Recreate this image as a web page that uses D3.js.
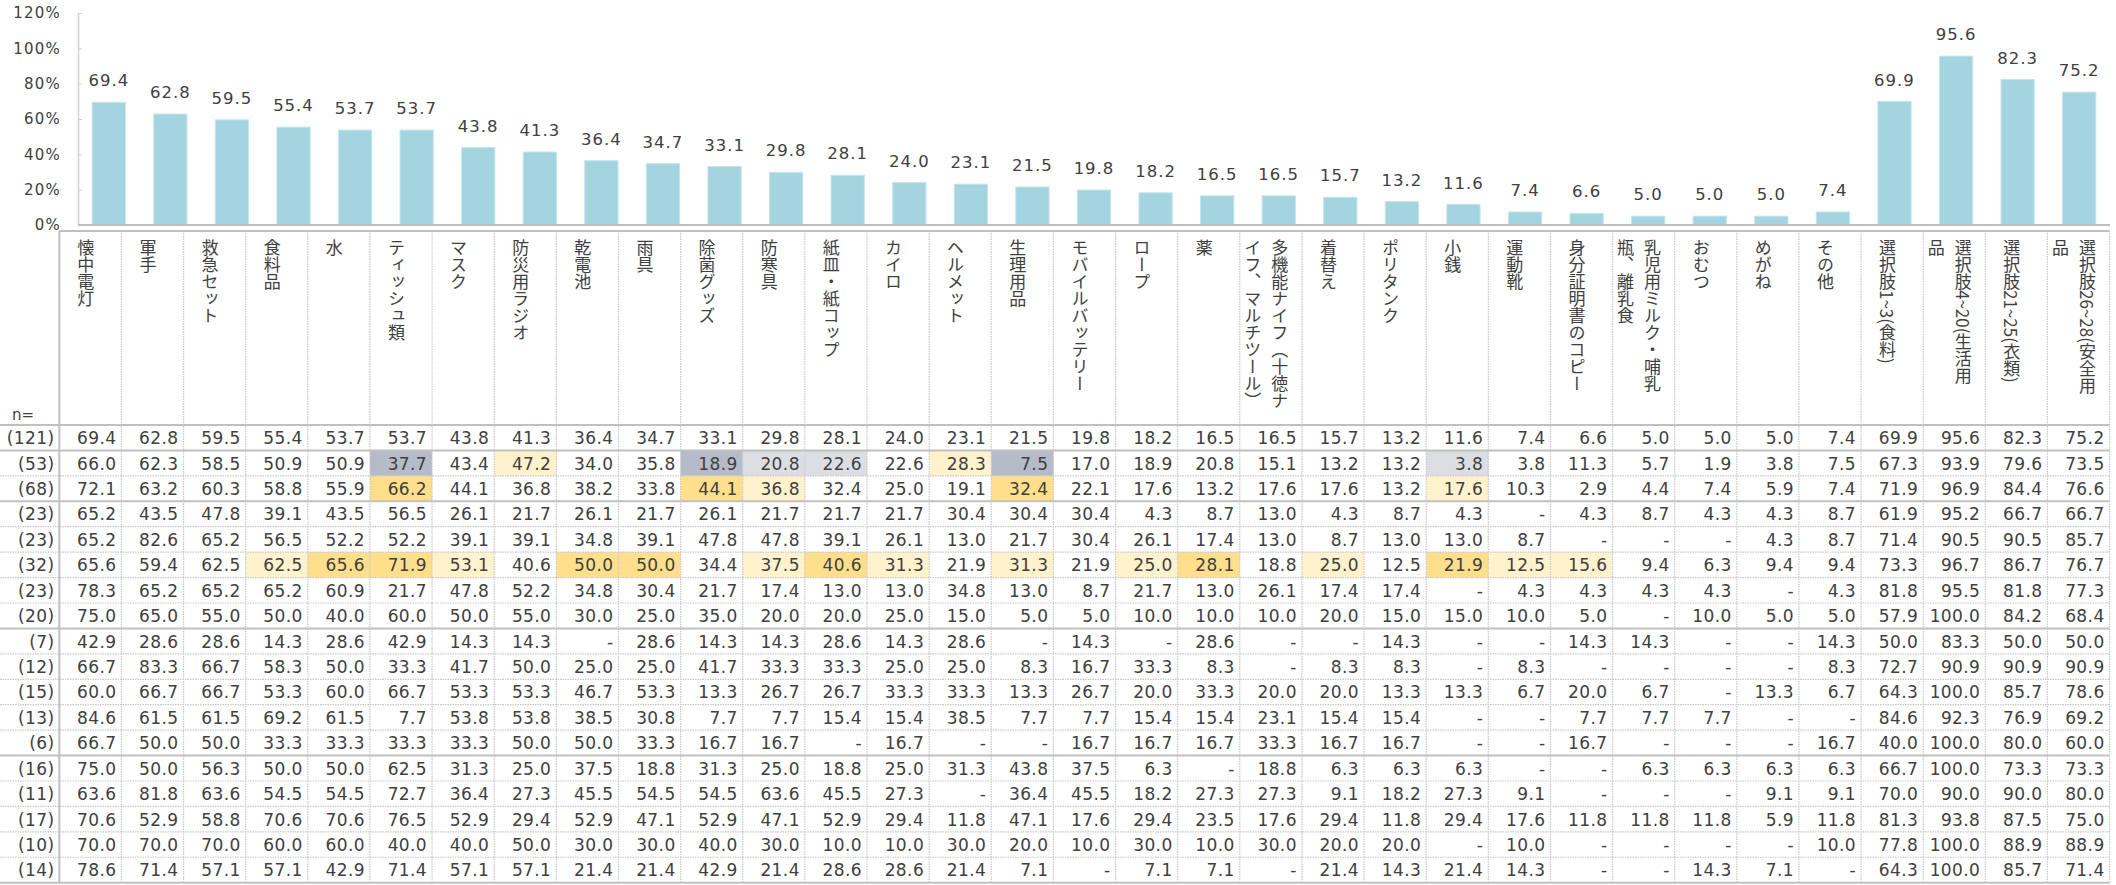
<!DOCTYPE html>
<html>
<head>
<meta charset="utf-8">
<script src="https://cdn.jsdelivr.net/npm/d3@7"></script>
<style>
  body { margin: 0; background: #fff; }
  text { fill: #404040; }
</style>
</head>
<body>
<script>
const W = 2116, H = 885;

// item names, "\n" marks where the header label wraps
const items = ["懐中電灯", "軍手", "救急セット", "食料品", "水", "ティッシュ類", "マスク", "防災用ラジオ",
  "乾電池", "雨具", "除菌グッズ", "防寒具", "紙皿・紙コップ", "カイロ", "ヘルメット", "生理用品",
  "モバイルバッテリー", "ロープ", "薬", "多機能ナイフ（十徳ナ\nイフ、マルチツール）", "着替え", "ポリタンク",
  "小銭", "運動靴", "身分証明書のコピー", "乳児用ミルク・哺乳\n瓶、離乳食", "おむつ", "めがね", "その他",
  "選択肢1~3(食料)", "選択肢4~20(生活用\n品", "選択肢21~25(衣類)", "選択肢26~28(安全用\n品"];

const yTicks = [0, 20, 40, 60, 80, 100, 120];

const sampleSizes = [121, 53, 68, 23, 23, 32, 23, 20, 7, 12, 15, 13, 6, 16, 11, 17, 10, 14];

// total (bars + first table row)
const overall = [69.4, 62.8, 59.5, 55.4, 53.7, 53.7, 43.8, 41.3, 36.4, 34.7, 33.1, 29.8, 28.1, 24.0, 23.1, 21.5, 19.8, 18.2, 16.5, 16.5, 15.7, 13.2, 11.6, 7.4, 6.6, 5.0, 5.0, 5.0, 7.4, 69.9, 95.6, 82.3, 75.2];

const rowG1 = [66.0, 62.3, 58.5, 50.9, 50.9, 37.7, 43.4, 47.2, 34.0, 35.8, 18.9, 20.8, 22.6, 22.6, 28.3, 7.5, 17.0, 18.9, 20.8, 15.1, 13.2, 13.2, 3.8, 3.8, 11.3, 5.7, 1.9, 3.8, 7.5, 67.3, 93.9, 79.6, 73.5];
const rowG2 = [72.1, 63.2, 60.3, 58.8, 55.9, 66.2, 44.1, 36.8, 38.2, 33.8, 44.1, 36.8, 32.4, 25.0, 19.1, 32.4, 22.1, 17.6, 13.2, 17.6, 17.6, 13.2, 17.6, 10.3, 2.9, 4.4, 7.4, 5.9, 7.4, 71.9, 96.9, 84.4, 76.6];

const rowA1 = [65.2, 43.5, 47.8, 39.1, 43.5, 56.5, 26.1, 21.7, 26.1, 21.7, 26.1, 21.7, 21.7, 21.7, 30.4, 30.4, 30.4, 4.3, 8.7, 13.0, 4.3, 8.7, 4.3, null, 4.3, 8.7, 4.3, 4.3, 8.7, 61.9, 95.2, 66.7, 66.7];
const rowA2 = [65.2, 82.6, 65.2, 56.5, 52.2, 52.2, 39.1, 39.1, 34.8, 39.1, 47.8, 47.8, 39.1, 26.1, 13.0, 21.7, 30.4, 26.1, 17.4, 13.0, 8.7, 13.0, 13.0, 8.7, null, null, null, 4.3, 8.7, 71.4, 90.5, 90.5, 85.7];
const rowA3 = [65.6, 59.4, 62.5, 62.5, 65.6, 71.9, 53.1, 40.6, 50.0, 50.0, 34.4, 37.5, 40.6, 31.3, 21.9, 31.3, 21.9, 25.0, 28.1, 18.8, 25.0, 12.5, 21.9, 12.5, 15.6, 9.4, 6.3, 9.4, 9.4, 73.3, 96.7, 86.7, 76.7];
const rowA4 = [78.3, 65.2, 65.2, 65.2, 60.9, 21.7, 47.8, 52.2, 34.8, 30.4, 21.7, 17.4, 13.0, 13.0, 34.8, 13.0, 8.7, 21.7, 13.0, 26.1, 17.4, 17.4, null, 4.3, 4.3, 4.3, 4.3, null, 4.3, 81.8, 95.5, 81.8, 77.3];
const rowA5 = [75.0, 65.0, 55.0, 50.0, 40.0, 60.0, 50.0, 55.0, 30.0, 25.0, 35.0, 20.0, 20.0, 25.0, 15.0, 5.0, 5.0, 10.0, 10.0, 10.0, 20.0, 15.0, 15.0, 10.0, 5.0, null, 10.0, 5.0, 5.0, 57.9, 100.0, 84.2, 68.4];

const rowB1 = [42.9, 28.6, 28.6, 14.3, 28.6, 42.9, 14.3, 14.3, null, 28.6, 14.3, 14.3, 28.6, 14.3, 28.6, null, 14.3, null, 28.6, null, null, 14.3, null, null, 14.3, 14.3, null, null, 14.3, 50.0, 83.3, 50.0, 50.0];
const rowB2 = [66.7, 83.3, 66.7, 58.3, 50.0, 33.3, 41.7, 50.0, 25.0, 25.0, 41.7, 33.3, 33.3, 25.0, 25.0, 8.3, 16.7, 33.3, 8.3, null, 8.3, 8.3, null, 8.3, null, null, null, null, 8.3, 72.7, 90.9, 90.9, 90.9];
const rowB3 = [60.0, 66.7, 66.7, 53.3, 60.0, 66.7, 53.3, 53.3, 46.7, 53.3, 13.3, 26.7, 26.7, 33.3, 33.3, 13.3, 26.7, 20.0, 33.3, 20.0, 20.0, 13.3, 13.3, 6.7, 20.0, 6.7, null, 13.3, 6.7, 64.3, 100.0, 85.7, 78.6];
const rowB4 = [84.6, 61.5, 61.5, 69.2, 61.5, 7.7, 53.8, 53.8, 38.5, 30.8, 7.7, 7.7, 15.4, 15.4, 38.5, 7.7, 7.7, 15.4, 15.4, 23.1, 15.4, 15.4, null, null, 7.7, 7.7, 7.7, null, null, 84.6, 92.3, 76.9, 69.2];
const rowB5 = [66.7, 50.0, 50.0, 33.3, 33.3, 33.3, 33.3, 50.0, 50.0, 33.3, 16.7, 16.7, null, 16.7, null, null, 16.7, 16.7, 16.7, 33.3, 16.7, 16.7, null, null, 16.7, null, null, null, 16.7, 40.0, 100.0, 80.0, 60.0];

const rowC1 = [75.0, 50.0, 56.3, 50.0, 50.0, 62.5, 31.3, 25.0, 37.5, 18.8, 31.3, 25.0, 18.8, 25.0, 31.3, 43.8, 37.5, 6.3, null, 18.8, 6.3, 6.3, 6.3, null, null, 6.3, 6.3, 6.3, 6.3, 66.7, 100.0, 73.3, 73.3];
const rowC2 = [63.6, 81.8, 63.6, 54.5, 54.5, 72.7, 36.4, 27.3, 45.5, 54.5, 54.5, 63.6, 45.5, 27.3, null, 36.4, 45.5, 18.2, 27.3, 27.3, 9.1, 18.2, 27.3, 9.1, null, null, null, 9.1, 9.1, 70.0, 90.0, 90.0, 80.0];
const rowC3 = [70.6, 52.9, 58.8, 70.6, 70.6, 76.5, 52.9, 29.4, 52.9, 47.1, 52.9, 47.1, 52.9, 29.4, 11.8, 47.1, 17.6, 29.4, 23.5, 17.6, 29.4, 11.8, 29.4, 17.6, 11.8, 11.8, 11.8, 5.9, 11.8, 81.3, 93.8, 87.5, 75.0];
const rowC4 = [70.0, 70.0, 70.0, 60.0, 60.0, 40.0, 40.0, 50.0, 30.0, 30.0, 40.0, 30.0, 10.0, 10.0, 30.0, 20.0, 10.0, 30.0, 10.0, 30.0, 20.0, 20.0, null, 10.0, null, null, null, null, 10.0, 77.8, 100.0, 88.9, 88.9];
const rowC5 = [78.6, 71.4, 57.1, 57.1, 42.9, 71.4, 57.1, 57.1, 21.4, 21.4, 42.9, 21.4, 28.6, 28.6, 21.4, 7.1, null, 7.1, 7.1, null, 21.4, 14.3, 21.4, 14.3, null, null, 14.3, 7.1, null, 64.3, 100.0, 85.7, 71.4];

const tableRows = [overall, rowG1, rowG2, rowA1, rowA2, rowA3, rowA4, rowA5,
  rowB1, rowB2, rowB3, rowB4, rowB5, rowC1, rowC2, rowC3, rowC4, rowC5];

// shaded cells: [row, column, level]  (hi = much higher, up = higher, dn = lower, lo = much lower)
const shaded = [
  [1, 5, "lo"], [1, 7, "up"], [1, 10, "lo"], [1, 11, "dn"], [1, 12, "dn"], [1, 14, "up"], [1, 15, "lo"], [1, 22, "dn"],
  [2, 5, "hi"], [2, 10, "hi"], [2, 11, "up"], [2, 15, "hi"], [2, 22, "up"],
  [5, 3, "up"], [5, 4, "hi"], [5, 5, "hi"], [5, 6, "up"], [5, 8, "hi"], [5, 9, "hi"], [5, 11, "up"], [5, 12, "hi"],
  [5, 13, "up"], [5, 15, "up"], [5, 17, "up"], [5, 18, "hi"], [5, 20, "up"], [5, 22, "hi"], [5, 23, "up"], [5, 24, "up"]
];
const shadeColor = { hi: "#ffdf8c", up: "#fff2cc", dn: "#dcdee4", lo: "#b6bbc9" };

// rows after which a solid rule is drawn
const solidRules = [0, 1, 3, 8, 13, 18];

const numFont = "'DejaVu Sans', Verdana, sans-serif";
const jpFont = "'Noto Sans CJK JP', sans-serif";

const svg = d3.select("body").append("svg")
  .attr("width", W)
  .attr("height", H);

// ---- bar chart ----
const x = d3.scaleBand()
  .domain(d3.range(items.length))
  .range([78, 2110])
  .paddingInner(0.46)
  .paddingOuter(0.23);

const y = d3.scaleLinear().domain([0, 120]).range([225, 13]);

const yAxis = svg.append("g")
  .attr("transform", "translate(78,0)")
  .call(d3.axisLeft(y).tickValues(yTicks).tickFormat(d => d + "%")
    .tickSizeInner(-4).tickSizeOuter(0).tickPadding(17));
yAxis.select(".domain").attr("stroke", "#d0d0d0").attr("stroke-width", 1.5);
yAxis.selectAll(".tick line").attr("stroke", "#d0d0d0");
yAxis.selectAll(".tick text")
  .style("font-family", numFont)
  .style("font-size", "15px")
  .style("letter-spacing", "1.2px")
  .attr("fill", "#505050");

svg.selectAll("rect.bar")
  .data(overall)
  .join("rect")
  .attr("class", "bar")
  .attr("x", (d, i) => x(i))
  .attr("y", d => y(d))
  .attr("width", x.bandwidth())
  .attr("height", d => y(0) - y(d))
  .attr("fill", "#a3d4df")
  .attr("stroke", "#c4e5ed")
  .attr("stroke-width", 1);

svg.selectAll("text.val")
  .data(overall)
  .join("text")
  .attr("class", "val")
  .attr("x", (d, i) => x(i) + x.bandwidth() / 2)
  .attr("y", d => y(d) - 16)
  .attr("text-anchor", "middle")
  .style("font-family", numFont)
  .style("font-size", "16.5px")
  .style("letter-spacing", "1px")
  .text(d => d.toFixed(1));

svg.append("line")
  .attr("x1", 78).attr("x2", 2110)
  .attr("y1", 225).attr("y2", 225)
  .attr("stroke", "#bfbfbf").attr("stroke-width", 2);

// ---- table ----
const col = d3.scaleBand().domain(d3.range(items.length)).range([59.3, 2109.6]);
const row = d3.scaleBand().domain(d3.range(tableRows.length)).range([425, 882.7]);
const tableTop = 231, tableBottom = 882.7;

svg.selectAll("rect.shade")
  .data(shaded)
  .join("rect")
  .attr("class", "shade")
  .attr("x", d => col(d[1]))
  .attr("y", d => row(d[0]))
  .attr("width", col.bandwidth())
  .attr("height", row.bandwidth())
  .attr("fill", d => shadeColor[d[2]]);

// horizontal rules
const hLines = d3.range(tableRows.length + 1);
svg.selectAll("line.h")
  .data(hLines)
  .join("line")
  .attr("class", "h")
  .attr("x1", 0).attr("x2", 2109.6)
  .attr("y1", d => 425 + d * row.step())
  .attr("y2", d => 425 + d * row.step())
  .attr("stroke", d => solidRules.includes(d) ? "#c0c0c0" : "#c8c8c8")
  .attr("stroke-width", d => solidRules.includes(d) ? 2 : 1.2)
  .attr("stroke-dasharray", d => solidRules.includes(d) ? null : "1.5,1");

svg.append("line")
  .attr("x1", 59.3).attr("x2", 2109.6)
  .attr("y1", tableTop).attr("y2", tableTop)
  .attr("stroke", "#c0c0c0").attr("stroke-width", 2);

// vertical rules
const vLines = d3.range(items.length + 1);
svg.selectAll("line.v")
  .data(vLines)
  .join("line")
  .attr("class", "v")
  .attr("x1", d => 59.3 + d * col.step())
  .attr("x2", d => 59.3 + d * col.step())
  .attr("y1", tableTop).attr("y2", tableBottom)
  .attr("stroke", d => d === 0 ? "#c0c0c0" : "#c8c8c8")
  .attr("stroke-width", d => d === 0 ? 2 : 1.2)
  .attr("stroke-dasharray", d => d === 0 ? null : "1.5,1");

// vertical item labels
const labels = svg.append("g");
items.forEach((name, i) => {
  const lines = name.split("\n");
  const c = col(i) + 26.5;
  lines.forEach((ln, j) => {
    labels.append("text")
      .attr("x", c + (lines.length - 1) * 13.5 - j * 27)
      .attr("y", 239)
      .style("writing-mode", "vertical-rl")
      .style("font-family", jpFont)
      .style("font-size", "17px")
      .text(ln);
  });
});

svg.append("text")
  .attr("x", 12).attr("y", 420)
  .style("font-family", numFont)
  .style("font-size", "15px")
  .text("n=");

// n column
svg.selectAll("text.n")
  .data(sampleSizes)
  .join("text")
  .attr("class", "n")
  .attr("x", 54.5)
  .attr("y", (d, i) => row(i) + row.bandwidth() / 2 + 6.5)
  .attr("text-anchor", "end")
  .style("font-family", numFont)
  .style("font-size", "17px")
  .style("letter-spacing", "0.4px")
  .text(d => "(" + d + ")");

// cell values
const cells = svg.append("g");
tableRows.forEach((vals, r) => {
  cells.selectAll(null)
    .data(vals)
    .join("text")
    .attr("x", (d, i) => col(i) + col.bandwidth() - 5)
    .attr("y", row(r) + row.bandwidth() / 2 + 6.5)
    .attr("text-anchor", "end")
    .style("font-family", numFont)
    .style("font-size", "17px")
    .style("letter-spacing", "0.4px")
    .text(d => d == null ? "-" : d.toFixed(1));
});
</script>
</body>
</html>
